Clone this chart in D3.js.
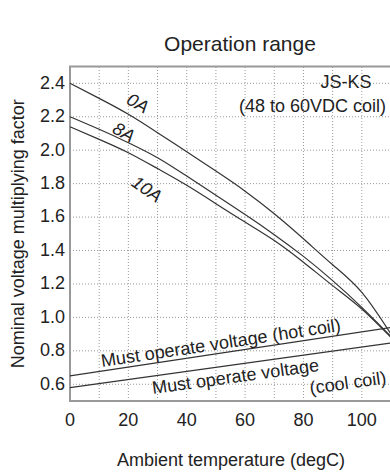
<!DOCTYPE html>
<html>
<head>
<meta charset="utf-8">
<script src="https://d3js.org/d3.v7.min.js"></script>
<style>
  body { margin: 0; background: #fff; }
  text { font-family: "Liberation Sans", Arial, sans-serif; fill: #222; }
</style>
</head>
<body>
<div id="chart"></div>
<script>
// Temperatures (degC) where the curves are read
const temps = [0, 10, 20, 30, 40, 50, 60, 70, 80, 90, 100, 110];
// Upper limit curves for each contact current
const curve0A = [2.40, 2.31, 2.215, 2.105, 1.99, 1.875, 1.755, 1.62, 1.47, 1.315, 1.15, 0.90];
const curve8A = [2.20, 2.125, 2.045, 1.955, 1.845, 1.73, 1.615, 1.495, 1.365, 1.22, 1.06, 0.885];
const curve10A = [2.14, 2.065, 1.985, 1.89, 1.79, 1.68, 1.57, 1.46, 1.33, 1.19, 1.05, 0.88];
// Must operate voltage lines (start and end)
const lineTemps = [0, 110];
const hotCoil = [0.65, 0.94];
const coolCoil = [0.58, 0.847];
// Ticks
const xTicks = [0, 20, 40, 60, 80, 100];
const xGrid = [10, 20, 30, 40, 50, 60, 70, 80, 90, 100];
const yTicks = [0.6, 0.8, 1.0, 1.2, 1.4, 1.6, 1.8, 2.0, 2.2, 2.4];

const width = 390;
const height = 473;

const svg = d3.select("#chart")
  .append("svg")
  .attr("width", width)
  .attr("height", height);

// Scales
const x = d3.scaleLinear().domain([0, 110]).range([70, 391]);
const y = d3.scaleLinear().domain([0.5, 2.5]).range([401, 66.6]);

// Title
svg.append("text")
  .attr("x", 240)
  .attr("y", 51)
  .attr("text-anchor", "middle")
  .style("font-size", "21px")
  .text("Operation range");

// Dotted grid
svg.selectAll(".xgrid")
  .data(xGrid)
  .enter()
  .append("line")
  .attr("class", "xgrid")
  .attr("x1", d => x(d))
  .attr("x2", d => x(d))
  .attr("y1", y(0.5))
  .attr("y2", y(2.5))
  .attr("stroke", "#999")
  .attr("stroke-width", 1)
  .attr("stroke-dasharray", "1,2");

svg.selectAll(".ygrid")
  .data(yTicks)
  .enter()
  .append("line")
  .attr("class", "ygrid")
  .attr("x1", x(0))
  .attr("x2", x(110))
  .attr("y1", d => y(d))
  .attr("y2", d => y(d))
  .attr("stroke", "#999")
  .attr("stroke-width", 1)
  .attr("stroke-dasharray", "1,2");

// Frame
svg.append("path")
  .attr("d", `M${x(110)},${y(2.5)}H${x(0)}V${y(0.5)}H${x(110)}`)
  .attr("fill", "none")
  .attr("stroke", "#999")
  .attr("stroke-width", 2);

// Tick labels
svg.selectAll(".xlabel")
  .data(xTicks)
  .enter()
  .append("text")
  .attr("class", "xlabel")
  .attr("x", d => x(d))
  .attr("y", 426)
  .attr("text-anchor", "middle")
  .style("font-size", "18px")
  .text(d => d);

svg.selectAll(".ylabel")
  .data(yTicks)
  .enter()
  .append("text")
  .attr("class", "ylabel")
  .attr("x", 65)
  .attr("y", d => y(d))
  .attr("dy", "0.3em")
  .attr("text-anchor", "end")
  .style("font-size", "18px")
  .text(d => d.toFixed(1));

// Axis titles
svg.append("text")
  .attr("x", 231)
  .attr("y", 466)
  .attr("text-anchor", "middle")
  .style("font-size", "18px")
  .text("Ambient temperature (degC)");

svg.append("text")
  .attr("transform", `translate(24, ${(y(0.5) + y(2.5)) / 2}) rotate(-90)`)
  .attr("text-anchor", "middle")
  .style("font-size", "18px")
  .text("Nominal voltage multiplying factor");

// Curves
const curveLine = d3.line()
  .x(d => x(d[0]))
  .y(d => y(d[1]))
  .curve(d3.curveNatural);

[curve0A, curve8A, curve10A].forEach(vals => {
  svg.append("path")
    .attr("d", curveLine(d3.zip(temps, vals)))
    .attr("fill", "none")
    .attr("stroke", "#333")
    .attr("stroke-width", 1.2);
});

[hotCoil, coolCoil].forEach(vals => {
  svg.append("path")
    .attr("d", curveLine(d3.zip(lineTemps, vals)))
    .attr("fill", "none")
    .attr("stroke", "#333")
    .attr("stroke-width", 1.2);
});

// Curve labels
function addLabel(px, py, angle, txt) {
  svg.append("text")
    .attr("transform", `translate(${px},${py}) rotate(${angle})`)
    .attr("text-anchor", "middle")
    .attr("dy", "0.35em")
    .style("font-size", "18px")
    .style("font-style", "italic")
    .text(txt);
}
addLabel(138, 103, 30, "0A");
addLabel(124, 132, 30, "8A");
addLabel(147, 189, 35, "10A");

// Angle of the operate lines on screen
const hotAngle = Math.atan2(y(hotCoil[1]) - y(hotCoil[0]), x(110) - x(0)) * 180 / Math.PI;
const coolAngle = Math.atan2(y(coolCoil[1]) - y(coolCoil[0]), x(110) - x(0)) * 180 / Math.PI;
const hotAt = t => hotCoil[0] + (hotCoil[1] - hotCoil[0]) * t / 110;
const coolAt = t => coolCoil[0] + (coolCoil[1] - coolCoil[0]) * t / 110;

svg.append("text")
  .attr("transform", `translate(${x(52)},${y(hotAt(52)) - 4}) rotate(${hotAngle})`)
  .attr("text-anchor", "middle")
  .style("font-size", "18px")
  .text("Must operate voltage (hot coil)");

svg.append("text")
  .attr("transform", `translate(${x(57)},${y(coolAt(57)) + 18}) rotate(${coolAngle})`)
  .attr("text-anchor", "middle")
  .style("font-size", "18px")
  .text("Must operate voltage");

svg.append("text")
  .attr("transform", `translate(${x(95.5)},${y(coolAt(95.5)) + 40}) rotate(${coolAngle})`)
  .attr("text-anchor", "middle")
  .style("font-size", "18px")
  .text("(cool coil)");

// Model note
svg.append("text")
  .attr("x", 346)
  .attr("y", 88)
  .attr("text-anchor", "middle")
  .style("font-size", "18px")
  .text("JS-KS");

svg.append("text")
  .attr("x", 386)
  .attr("y", 112)
  .attr("text-anchor", "end")
  .style("font-size", "18px")
  .text("(48 to 60VDC coil)");
</script>
</body>
</html>
